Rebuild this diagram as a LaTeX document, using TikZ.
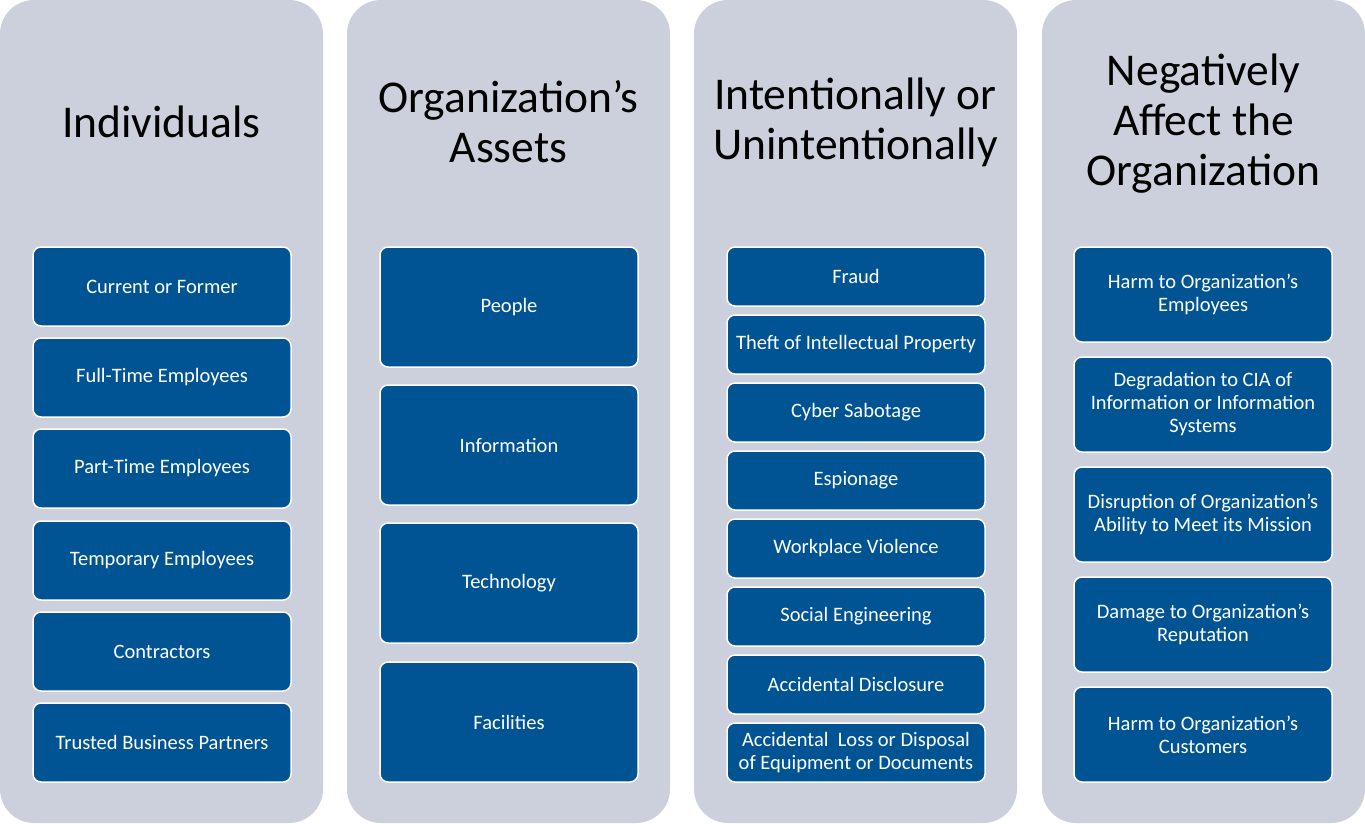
\documentclass[tikz,border=0pt]{standalone}
\usepackage{fontspec}
\setmainfont{Carlito}
\definecolor{panelgray}{RGB}{203,208,220}
\definecolor{boxblue}{RGB}{0,84,147}
\tikzset{
  panel/.style={rectangle, rounded corners=34pt, fill=panelgray, minimum width=323pt, minimum height=823pt, anchor=north west, inner sep=0pt, outer sep=0pt},
  heading/.style={align=center, font=\fontsize{45.5}{50}\selectfont, text=black},
  item/.style={rectangle, rounded corners=8pt, fill=boxblue, draw=white, line width=1.5pt, text=white, align=center, minimum width=258pt, inner sep=2pt, outer sep=0pt, font=\fontsize{20.5}{23}\selectfont},
  short/.style={item, minimum height=59pt},
  mid/.style={item, minimum height=79pt},
  tall/.style={item, minimum height=95pt},
  big/.style={item, minimum height=120pt}
}
\begin{document}
\begin{tikzpicture}[x=1pt, y=-1pt]
	\useasboundingbox[fill=white] (0, 0) rectangle (1365, 823);
	% four panels
	\path (0, 0) node(pind) [panel] {};
	\path (347, 0) node(passet) [panel] {};
	\path (694, 0) node(pintent) [panel] {};
	\path (1042, 0) node(pneg) [panel] {};
	% headings
	\path (161.5, 122) node(hind) [heading] {Individuals};
	\path (508.5, 122) node(hasset) [heading] {Organization’s\\Assets};
	\path (855.5, 122) node(hintent) [heading] {Intentionally or\\Unintentionally};
	\path (1203.5, 124) node(hneg) [heading] {Negatively\\Affect the\\Organization};
	% individuals
	\path (162, 286.5) node(cur) [mid] {Current or Former};
	\path (162, 377.5) node(full) [mid] {Full-Time Employees};
	\path (162, 468.5) node(part) [mid] {Part-Time Employees};
	\path (162, 560.5) node(temp) [mid] {Temporary Employees};
	\path (162, 651.5) node(contr) [mid] {Contractors};
	\path (162, 742.5) node(trust) [mid] {Trusted Business Partners};
	% assets
	\path (509, 307) node(people) [big] {People};
	\path (509, 445) node(info) [big] {Information};
	\path (509, 583) node(tech) [big] {Technology};
	\path (509, 722) node(facil) [big] {Facilities};
	% intentionally or not
	\path (856, 276.5) node(fraud) [short] {Fraud};
	\path (856, 344.5) node(theft) [short] {Theft of Intellectual Property};
	\path (856, 412.5) node(sabot) [short] {Cyber Sabotage};
	\path (856, 480.5) node(espio) [short] {Espionage};
	\path (856, 548.5) node(viol) [short] {Workplace Violence};
	\path (856, 616.5) node(social) [short] {Social Engineering};
	\path (856, 684.5) node(discl) [short] {Accidental Disclosure};
	\path (856, 752.5) node(loss) [short] {Accidental\ \ Loss or Disposal\\of Equipment or Documents};
	% negative effects
	\path (1203, 294.5) node(harmemp) [tall] {Harm to Organization’s\\Employees};
	\path (1203, 404.5) node(degr) [tall] {Degradation to CIA of\\Information or Information\\Systems};
	\path (1203, 514.5) node(disr) [tall] {Disruption of Organization’s\\Ability to Meet its Mission};
	\path (1203, 624.5) node(damage) [tall] {Damage to Organization’s\\Reputation};
	\path (1203, 734.5) node(harmcust) [tall] {Harm to Organization’s\\Customers};
\end{tikzpicture}
\end{document}
